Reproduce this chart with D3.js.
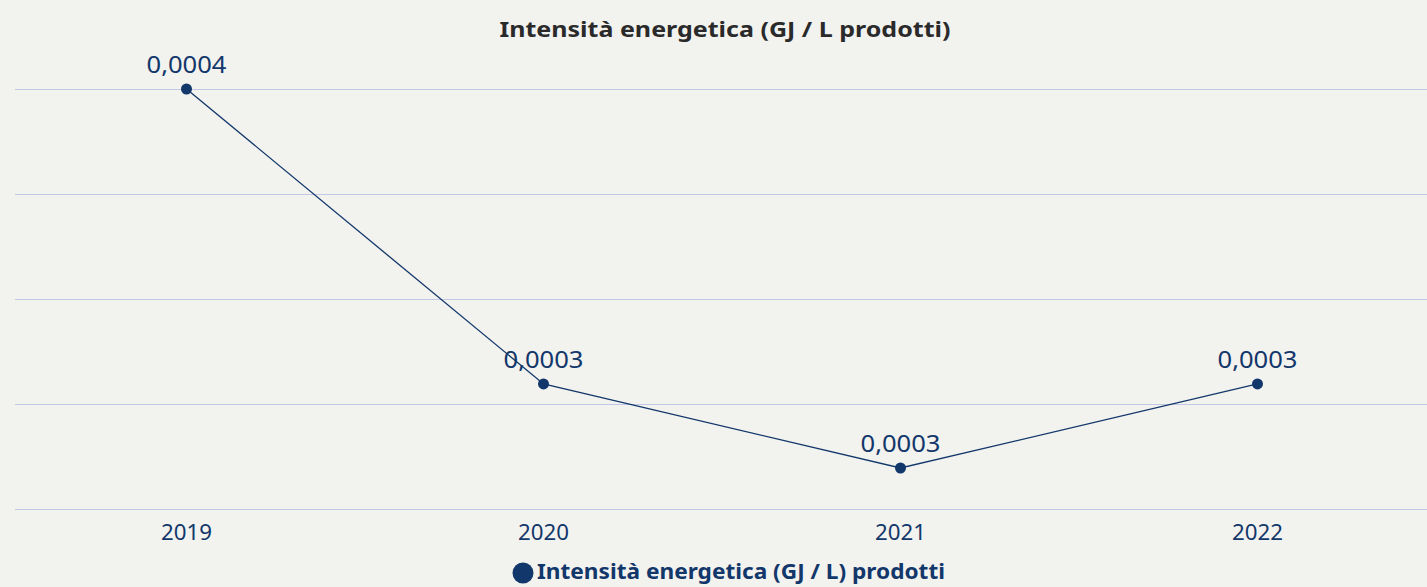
<!DOCTYPE html>
<html>
<head>
<meta charset="utf-8">
<script src="https://cdn.jsdelivr.net/npm/d3@7"></script>
<style>
  body { margin: 0; background: #f2f2ef; }
  svg { display: block; font-family: "Noto Sans", "Open Sans", sans-serif; }
</style>
</head>
<body>
<svg id="chart" width="1427" height="587"></svg>
<script>
const years = ['2019', '2020', '2021', '2022']
const values = [0.000400, 0.000300, 0.0002715, 0.000300]
const valueLabels = ['0,0004', '0,0003', '0,0003', '0,0003']
const title = 'Intensità energetica (GJ / L prodotti)'
const seriesName = 'Intensità energetica (GJ / L) prodotti'

window.addEventListener('load', () => {
  const svg = d3.select('#chart'),
    width = +svg.attr('width'),
    navy = '#12376a'

  const x = d3.scaleBand().domain(years).range([8, 1436])
  const y = d3.scaleLinear().domain([0.0002576, 0.0004]).range([509, 89])
  const gridVals = d3.range(5).map((i) => y.domain()[0] + (i * (y.domain()[1] - y.domain()[0])) / 4)

  svg.append('rect').attr('width', width).attr('height', 587).attr('fill', '#f2f2ef')

  // gridlines
  svg.append('g')
    .selectAll('line')
    .data(gridVals)
    .enter()
    .append('line')
    .attr('x1', 15)
    .attr('x2', width)
    .attr('y1', (d) => Math.round(y(d)) + 0.5)
    .attr('y2', (d) => Math.round(y(d)) + 0.5)
    .attr('stroke', '#c3c8e6')
    .attr('stroke-width', 1)

  svg.append('text')
    .attr('x', 725)
    .attr('y', 37)
    .attr('text-anchor', 'middle')
    .attr('font-size', 22)
    .attr('font-weight', 'bold')
    .attr('fill', '#2a2a2a')
    .attr('textLength', 451)
    .attr('lengthAdjust', 'spacingAndGlyphs')
    .text(title)

  const cx = (d) => x(d) + x.bandwidth() / 2

  svg.append('path')
    .datum(years)
    .attr('fill', 'none')
    .attr('stroke', navy)
    .attr('stroke-width', 1.3)
    .attr('d', d3.line().x(cx).y((d, i) => y(values[i])))

  svg.append('g')
    .selectAll('circle')
    .data(years)
    .enter()
    .append('circle')
    .attr('cx', cx)
    .attr('cy', (d, i) => y(values[i]))
    .attr('r', 5.5)
    .attr('fill', navy)

  svg.append('g')
    .selectAll('text')
    .data(years)
    .enter()
    .append('text')
    .attr('x', cx)
    .attr('y', (d, i) => y(values[i]) - 16)
    .attr('text-anchor', 'middle')
    .attr('font-size', 23)
    .attr('fill', navy)
    .attr('textLength', 80)
    .attr('lengthAdjust', 'spacingAndGlyphs')
    .text((d, i) => valueLabels[i])

  // x axis labels
  svg.append('g')
    .selectAll('text')
    .data(years)
    .enter()
    .append('text')
    .attr('x', cx)
    .attr('y', 540)
    .attr('text-anchor', 'middle')
    .attr('font-size', 21)
    .attr('fill', navy)
    .attr('textLength', 51)
    .attr('lengthAdjust', 'spacingAndGlyphs')
    .text((d) => d)

  // legend
  const lg = svg.append('g').attr('transform', 'translate(523, 573)')
  lg.append('circle').attr('r', 10.5).attr('fill', navy)
  lg.append('text')
    .attr('x', 14)
    .attr('y', 6)
    .attr('font-size', 21)
    .attr('font-weight', 'bold')
    .attr('fill', navy)
    .attr('textLength', 408)
    .attr('lengthAdjust', 'spacingAndGlyphs')
    .text(seriesName)
})
</script>
</body>
</html>
